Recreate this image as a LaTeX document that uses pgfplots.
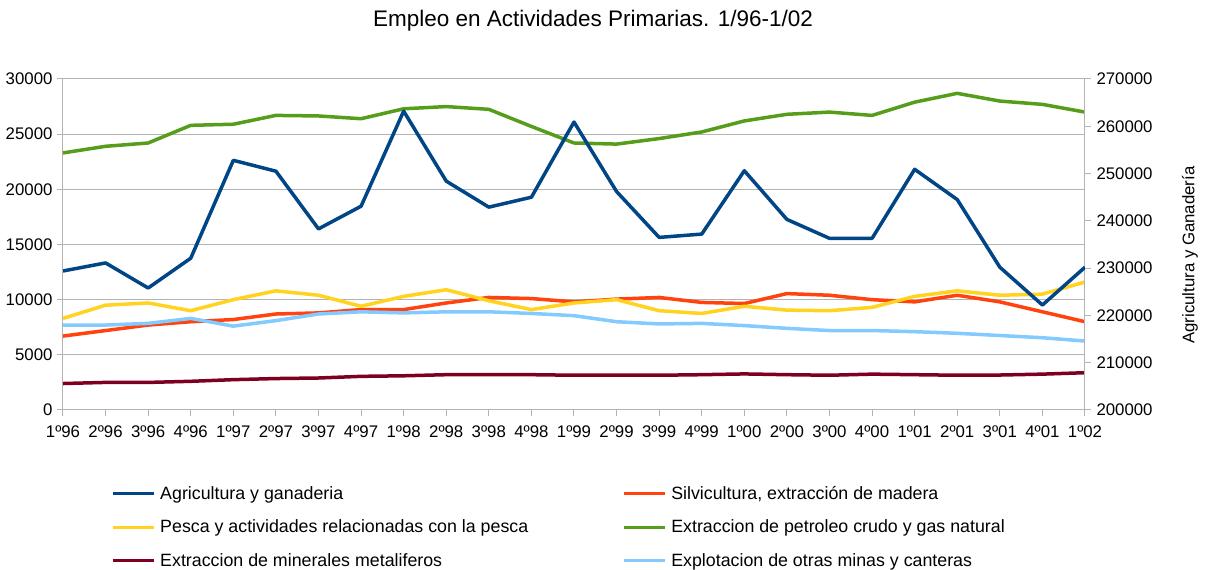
\documentclass[border=0pt]{standalone}
\usepackage{fontspec}
\setmainfont{Liberation Sans}
\usepackage{pgfplots}
\usepackage{pgfplotstable}
\pgfplotsset{compat=1.18}
\definecolor{cAgri}{HTML}{004586}
\definecolor{cSilv}{HTML}{FF420E}
\definecolor{cPesca}{HTML}{FFD320}
\definecolor{cPetro}{HTML}{579D1C}
\definecolor{cMiner}{HTML}{7E0021}
\definecolor{cExplo}{HTML}{83CAFF}
\definecolor{cGrid}{HTML}{B3B3B3}

\pgfplotstableread{
x agri silv pesca petro miner explo
0  229400 6700  8300  23300 2400 7700
1  231100 7200  9500  23900 2500 7700
2  225800 7700  9700  24200 2500 7850
3  232100 8000  9000  25800 2600 8300
4  252800 8200  10000 25900 2750 7600
5  250500 8700  10800 26700 2850 8100
6  238300 8800  10400 26650 2900 8700
7  243100 9100  9400  26400 3050 8900
8  263200 9100  10300 27300 3100 8800
9  248400 9700  10900 27500 3200 8900
10 242900 10200 9900  27250 3200 8900
11 245000 10100 9100  25700 3200 8750
12 260900 9800  9700  24200 3150 8550
13 246200 10050 10000 24100 3170 8000
14 236500 10200 9000  24600 3150 7800
15 237200 9750  8750  25200 3200 7850
16 250600 9650  9400  26200 3270 7650
17 240300 10550 9050  26800 3200 7400
18 236300 10400 9000  27000 3150 7200
19 236300 10000 9300  26700 3250 7200
20 250900 9800  10300 27900 3200 7100
21 244500 10400 10800 28700 3150 6950
22 230200 9800  10400 28000 3170 6750
23 222200 8900  10500 27700 3250 6550
24 230200 8000  11600 27000 3380 6250
}\datatable

\pgfplotsset{
  common/.style={
    scale only axis, width=1022pt, height=331pt,
    at={(63pt,160pt)}, anchor=south west,
    xmin=0, xmax=24,
    tick align=outside,
    major tick length=6pt,
    every tick/.style={cGrid, line width=1pt},
    axis line style={cGrid, line width=1pt},
    tick label style={font=\fontsize{16.8}{20}\selectfont},
    scaled y ticks=false,
  },
  series/.style={line width=3.5pt, line join=round},
}

\begin{document}
\begin{tikzpicture}
\useasboundingbox (0,0) rectangle (1207pt,570pt);
\node[font=\fontsize{22.5}{26}\selectfont] at (593pt,549pt) {Empleo en Actividades Primarias. 1/96-1/02};

\begin{axis}[common,
  axis x line*=bottom, axis y line*=left,
  ymin=0, ymax=30000, ytick={0,5000,10000,15000,20000,25000,30000},
  yticklabels={0,5000,10000,15000,20000,25000,30000},
  yticklabel style={xshift=-1pt},
  ymajorgrids, major grid style={cGrid, line width=1pt},
  xtick={0,...,24},
  xticklabels={1º96,2º96,3º96,4º96,1º97,2º97,3º97,4º97,1º98,2º98,3º98,4º98,1º99,2º99,3º99,4º99,1º00,2º00,3º00,4º00,1º01,2º01,3º01,4º01,1º02},
  xticklabel style={yshift=-6pt},
  legend columns=2,
  legend cell align=left,
  legend image code/.code={\draw[#1, line width=3pt] (0pt,0pt) -- (41pt,0pt);},
  legend style={at={(axis description cs:0.047,-0.224)}, anchor=north west,
    draw=none, fill=none, inner sep=0pt,
    font=\fontsize{17.8}{21}\selectfont,
    row sep=15pt,
    /tikz/column 1/.style={column sep=3pt},
    /tikz/column 2/.style={column sep=92pt},
    /tikz/column 3/.style={column sep=3pt}},
]
\addlegendimage{series, cAgri}
\addlegendentry{Agricultura y ganaderia}
\addplot[series, cSilv] table[x=x, y=silv] {\datatable};
\addlegendentry{Silvicultura, extracción de madera}
\addplot[series, cPesca] table[x=x, y=pesca] {\datatable};
\addlegendentry{Pesca y actividades relacionadas con la pesca}
\addplot[series, cPetro] table[x=x, y=petro] {\datatable};
\addlegendentry{Extraccion de petroleo crudo y gas natural}
\addplot[series, cMiner] table[x=x, y=miner] {\datatable};
\addlegendentry{Extraccion de minerales metaliferos}
\addplot[series, cExplo] table[x=x, y=explo] {\datatable};
\addlegendentry{Explotacion de otras minas y canteras}
\end{axis}

\begin{axis}[common,
  axis x line=none, axis y line*=right,
  ymin=200000, ymax=270000,
  ytick={200000,210000,220000,230000,240000,250000,260000,270000},
  yticklabels={200000,210000,220000,230000,240000,250000,260000,270000},
  yticklabel style={xshift=2pt},
  ylabel={Agricultura y Ganadería},
  every axis y label/.style={at={(axis description cs:1.1027,0.468)}, rotate=90, anchor=center, font=\fontsize{16.8}{19}\selectfont},
]
\addplot[series, cAgri] table[x=x, y=agri] {\datatable};
\end{axis}
\end{tikzpicture}
\end{document}
